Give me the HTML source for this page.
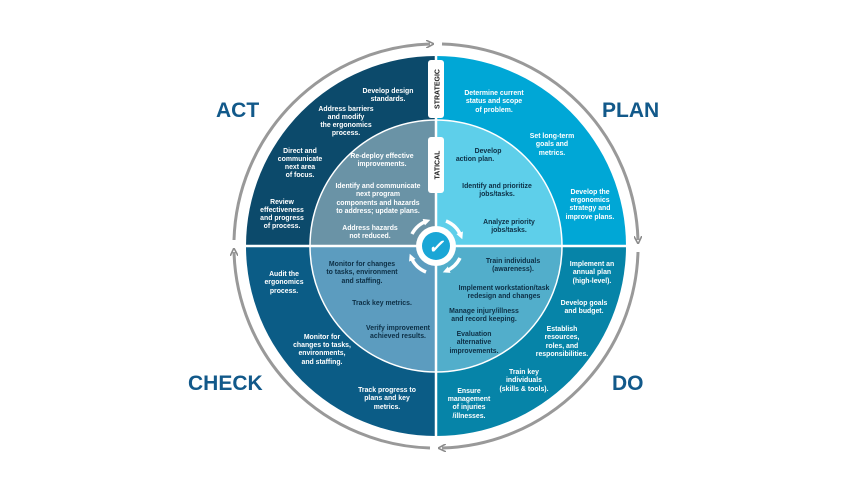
<!DOCTYPE html>
<html><head><meta charset="utf-8"><style>
html,body{margin:0;padding:0;background:#fff;width:864px;height:486px;overflow:hidden}
svg{display:block}
text{font-family:"Liberation Sans",sans-serif;font-weight:bold}
.w{fill:#fff;font-size:6.9px}
.d{fill:#0d2f45;font-size:6.9px}
.big{fill:#12598a;font-size:21px}
</style></head><body>
<svg width="864" height="486" viewBox="0 0 864 486">
<defs>
<marker id="ah" markerWidth="8" markerHeight="8" refX="4" refY="4" orient="auto" markerUnits="userSpaceOnUse">
<path d="M0,0 L8,4 L0,8" fill="none" stroke="#8c8c8c" stroke-width="1.6"/></marker>
<marker id="wh" markerWidth="7" markerHeight="7" refX="3.5" refY="3.5" orient="auto" markerUnits="userSpaceOnUse">
<path d="M0,0 L7,3.5 L0,7 Z" fill="#fff"/></marker>
</defs>
<g fill="none" stroke="#999" stroke-width="3">
<path d="M234,240 A202,202 0 0 1 430,44" marker-end="url(#ah)"/>
<path d="M442,44 A202,202 0 0 1 638,240" marker-end="url(#ah)"/>
<path d="M638,252 A202,202 0 0 1 442,448" marker-end="url(#ah)"/>
<path d="M430,448 A202,202 0 0 1 234,252" marker-end="url(#ah)"/>
</g>
<path d="M436,246 L246,246 A190,190 0 0 1 436,56 Z" fill="#0c4a6b"/>
<path d="M436,246 L436,56 A190,190 0 0 1 626,246 Z" fill="#00a7d6"/>
<path d="M436,246 L626,246 A190,190 0 0 1 436,436 Z" fill="#0684a8"/>
<path d="M436,246 L436,436 A190,190 0 0 1 246,246 Z" fill="#0b5c86"/>
<path d="M436,246 L310,246 A126,126 0 0 1 436,120 Z" fill="#6a93a6"/>
<path d="M436,246 L436,120 A126,126 0 0 1 562,246 Z" fill="#5ecfea"/>
<path d="M436,246 L562,246 A126,126 0 0 1 436,372 Z" fill="#52aecb"/>
<path d="M436,246 L436,372 A126,126 0 0 1 310,246 Z" fill="#5c9cbf"/>
<line x1="436" y1="54" x2="436" y2="438" stroke="#fff" stroke-width="2.5"/>
<line x1="244" y1="246" x2="628" y2="246" stroke="#fff" stroke-width="2.5"/>
<circle cx="436" cy="246" r="126" fill="none" stroke="#fff" stroke-width="1.5"/>
<rect x="428" y="60" width="16" height="58" rx="3" fill="#fff"/>
<text transform="translate(439.5,89) rotate(-90)" text-anchor="middle" style="font-size:7px;fill:#1a1a1a">STRATEGIC</text>
<rect x="428" y="137" width="16" height="56" rx="3" fill="#fff"/>
<text transform="translate(439.5,165) rotate(-90)" text-anchor="middle" style="font-size:7px;fill:#1a1a1a">TATICAL</text>
<g fill="none" stroke="#fff" stroke-width="3.5">
<path d="M412,234 A27,27 0 0 1 427,221" marker-end="url(#wh)"/>
<path d="M446,221 A27,27 0 0 1 461,236" marker-end="url(#wh)"/>
<path d="M460,258 A27,27 0 0 1 446,271" marker-end="url(#wh)"/>
<path d="M426,272 A27,27 0 0 1 411,257" marker-end="url(#wh)"/>
</g>
<circle cx="436" cy="246" r="20" fill="#fff"/>
<circle cx="436" cy="246" r="14" fill="#1aa6d6"/>
<text x="436" y="253" text-anchor="middle" style="font-size:19px;fill:#fff;font-style:italic">✓</text>
<text class="big" x="216" y="117">ACT</text>
<text class="big" x="602" y="117">PLAN</text>
<text class="big" x="188" y="390">CHECK</text>
<text class="big" x="612" y="390">DO</text>
<g class="w" text-anchor="middle">
<text x="388" y="93">Develop design</text><text x="388" y="101">standards.</text>
<text x="346" y="111">Address barriers</text><text x="346" y="119">and modify</text><text x="346" y="127">the ergonomics</text><text x="346" y="135">process.</text>
<text x="300" y="153">Direct and</text><text x="300" y="161">communicate</text><text x="300" y="169">next area</text><text x="300" y="177">of focus.</text>
<text x="282" y="204">Review</text><text x="282" y="212">effectiveness</text><text x="282" y="220">and progress</text><text x="282" y="228">of process.</text>
<text x="382" y="158">Re-deploy effective</text><text x="382" y="166">improvements.</text>
<text x="378" y="188">Identify and communicate</text><text x="378" y="196">next program</text><text x="378" y="205">components and hazards</text><text x="378" y="213">to address; update plans.</text>
<text x="370" y="230">Address hazards</text><text x="370" y="238">not reduced.</text>
<text x="494" y="95">Determine current</text><text x="494" y="103">status and scope</text><text x="494" y="112">of problem.</text>
<text x="552" y="138">Set long-term</text><text x="552" y="146">goals and</text><text x="552" y="155">metrics.</text>
<text x="590" y="194">Develop the</text><text x="590" y="202">ergonomics</text><text x="590" y="210">strategy and</text><text x="590" y="219">improve plans.</text>
<text x="284" y="276">Audit the</text><text x="284" y="284">ergonomics</text><text x="284" y="293">process.</text>
<text x="322" y="339">Monitor for</text><text x="322" y="347">changes to tasks,</text><text x="322" y="355">environments,</text><text x="322" y="364">and staffing.</text>
<text x="387" y="392">Track progress to</text><text x="387" y="400">plans and key</text><text x="387" y="409">metrics.</text>
<text x="592" y="266">Implement an</text><text x="592" y="274">annual plan</text><text x="592" y="283">(high-level).</text>
<text x="584" y="305">Develop goals</text><text x="584" y="313">and budget.</text>
<text x="562" y="331">Establish</text><text x="562" y="339">resources,</text><text x="562" y="348">roles, and</text><text x="562" y="356">responsibilities.</text>
<text x="524" y="374">Train key</text><text x="524" y="382">individuals</text><text x="524" y="391">(skills &amp; tools).</text>
<text x="469" y="393">Ensure</text><text x="469" y="401">management</text><text x="469" y="409">of injuries</text><text x="469" y="418">/illnesses.</text>
</g>
<g class="d" text-anchor="middle">
<text x="488" y="153">Develop</text><text x="475" y="161">action plan.</text>
<text x="497" y="188">Identify and prioritize</text><text x="497" y="196">jobs/tasks.</text>
<text x="509" y="224">Analyze priority</text><text x="509" y="232">jobs/tasks.</text>
<text x="362" y="266">Monitor for changes</text><text x="362" y="274">to tasks, environment</text><text x="362" y="283">and staffing.</text>
<text x="382" y="305">Track key metrics.</text>
<text x="398" y="330">Verify improvement</text><text x="398" y="338">achieved results.</text>
<text x="513" y="263">Train individuals</text><text x="513" y="271">(awareness).</text>
<text x="504" y="290">Implement workstation/task</text><text x="504" y="298">redesign and changes</text>
<text x="484" y="313">Manage injury/illness</text><text x="484" y="321">and record keeping.</text>
<text x="474" y="336">Evaluation</text><text x="474" y="344">alternative</text><text x="474" y="353">improvements.</text>
</g>
</svg>
</body></html>
